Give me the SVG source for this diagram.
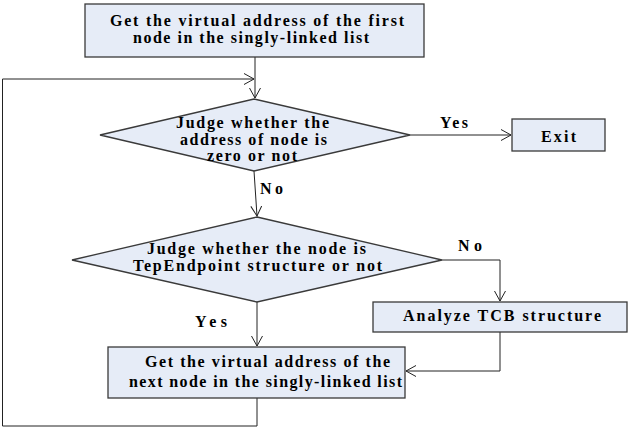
<svg xmlns="http://www.w3.org/2000/svg" width="628" height="427" viewBox="0 0 628 427">
<defs>
<marker id="arr" markerWidth="12" markerHeight="12" refX="10" refY="6" orient="auto" markerUnits="userSpaceOnUse">
<path d="M0,0.5 L10,6 L0,11.5" fill="none" stroke="#222" stroke-width="1"/>
</marker>
<style>
.box{fill:#E6ECF7;stroke:#3a3a3a;stroke-width:1.3}
.t{font-family:"Liberation Serif","Times New Roman",serif;font-weight:bold;font-size:16px;fill:#000;text-anchor:start}
.c{fill:none;stroke:#222;stroke-width:1}
</style>
</defs>
<rect width="628" height="427" fill="#fff"/>
<g id="connectors">
<line class="c" x1="255" y1="57" x2="255" y2="98" marker-end="url(#arr)"/>
<polyline class="c" points="257,398 257,426 2.5,426 2.5,79 254,79" marker-end="url(#arr)"/>
<line class="c" x1="410" y1="135" x2="511" y2="135" marker-end="url(#arr)"/>
<line class="c" x1="254" y1="171" x2="257" y2="216" marker-end="url(#arr)"/>
<polyline class="c" points="442,260 500,260 500,301" marker-end="url(#arr)"/>
<line class="c" x1="257" y1="302" x2="257" y2="346" marker-end="url(#arr)"/>
<polyline class="c" points="500,332 500,371 406,371" marker-end="url(#arr)"/>
<text class="t" x="440" y="128" textLength="28" lengthAdjust="spacing">Yes</text>
<text class="t" x="260" y="194" textLength="23" lengthAdjust="spacing">No</text>
<text class="t" x="458" y="251" textLength="24" lengthAdjust="spacing">No</text>
<text class="t" x="195" y="327" textLength="32" lengthAdjust="spacing">Yes</text>
</g>
<g id="start">
<rect class="box" x="85" y="4" width="339" height="53"/>
<text class="t" x="110" y="26" textLength="294" lengthAdjust="spacing">Get the virtual address of the first</text>
<text class="t" x="133" y="43" textLength="236" lengthAdjust="spacing">node in the singly-linked list</text>
</g>
<g id="judge-zero">
<polygon class="box" points="254,99 410,135 254,171 100,135"/>
<text class="t" x="176" y="128" textLength="153" lengthAdjust="spacing">Judge whether the</text>
<text class="t" x="180" y="145" textLength="147" lengthAdjust="spacing">address of node is</text>
<text class="t" x="207" y="161" textLength="90" lengthAdjust="spacing">zero or not</text>
</g>
<g id="exit">
<rect class="box" x="512" y="119" width="93" height="32"/>
<text class="t" x="541" y="142" textLength="35" lengthAdjust="spacing">Exit</text>
</g>
<g id="judge-tcp">
<polygon class="box" points="257,217 442,260 257,302 72,260"/>
<text class="t" x="147" y="254" textLength="219" lengthAdjust="spacing">Judge whether the node is</text>
<text class="t" x="133" y="271" textLength="249" lengthAdjust="spacing">TepEndpoint structure or not</text>
</g>
<g id="analyze">
<rect class="box" x="373" y="302" width="254" height="30"/>
<text class="t" x="403" y="321" textLength="198" lengthAdjust="spacing">Analyze TCB structure</text>
</g>
<g id="next">
<rect class="box" x="108" y="347" width="297" height="51"/>
<text class="t" x="145" y="367" textLength="245" lengthAdjust="spacing">Get the virtual address of the</text>
<text class="t" x="129" y="387" textLength="273" lengthAdjust="spacing">next node in the singly-linked list</text>
</g>
</svg>
